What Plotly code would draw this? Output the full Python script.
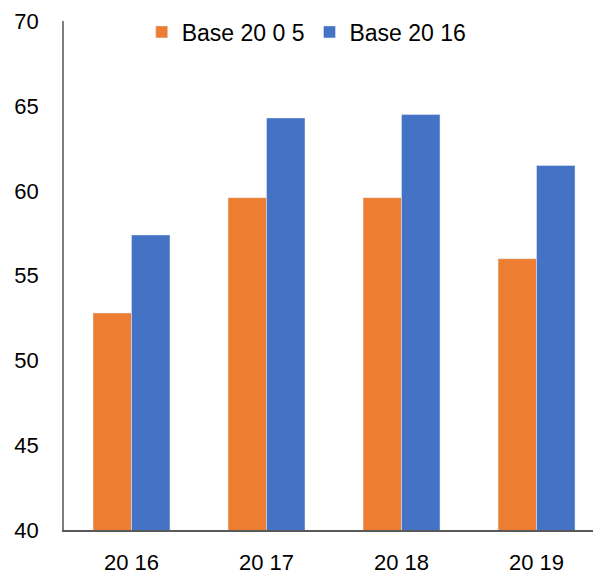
import plotly.graph_objects as go

categories = ["20 16", "20 17", "20 18", "20 19"]
base_2005 = [52.8, 59.6, 59.6, 56.0]
base_2016 = [57.4, 64.3, 64.5, 61.5]
series_names = ["Base 20 0 5", "Base 20 16"]
y_ticks = [40, 45, 50, 55, 60, 65, 70]

fig = go.Figure()
fig.add_trace(go.Bar(x=categories, y=base_2005, name=series_names[0],
                     marker=dict(color="#ED7D31")))
fig.add_trace(go.Bar(x=categories, y=base_2016, name=series_names[1],
                     marker=dict(color="#4472C4")))

fig.update_layout(
    width=593, height=568,
    margin=dict(l=56, r=1, t=11, b=45),
    paper_bgcolor="white", plot_bgcolor="white",
    font=dict(family="Liberation Sans, Arial", size=22, color="#000000"),
    barmode="group", bargap=0.43, bargroupgap=0,
    showlegend=True,
    legend=dict(orientation="h", x=0.145, xanchor="left", y=0.9785, yanchor="middle",
                font=dict(size=23), bgcolor="rgba(0,0,0,0)", itemclick=False),
    xaxis=dict(range=[-0.5, 3.47], showline=True, linecolor="#595959", linewidth=1.5,
               ticks="", ticklabelstandoff=12, showgrid=False, zeroline=False),
    yaxis=dict(range=[40, 70.02], tickvals=y_ticks, showline=True, linecolor="#7f7f7f",
               linewidth=1.5, ticks="", ticklabelstandoff=19, showgrid=False,
               zeroline=False),
)

fig.write_html("out.html")
